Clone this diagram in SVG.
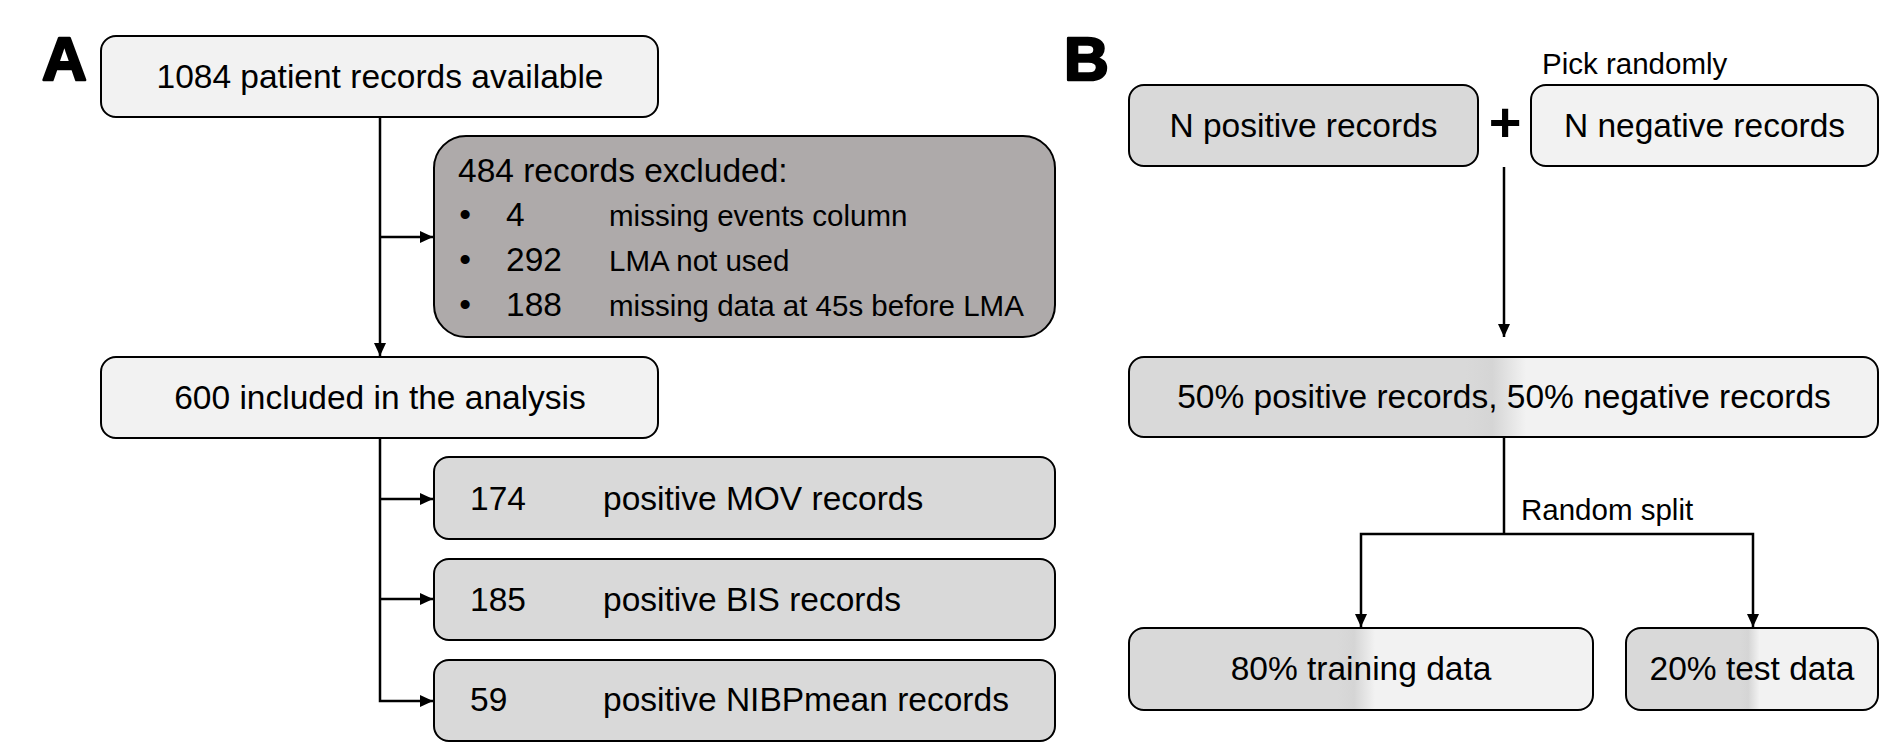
<svg xmlns="http://www.w3.org/2000/svg" width="1880" height="746" viewBox="0 0 1880 746">
  <style>
    text { font-family: "Liberation Sans", Arial, sans-serif; fill: #000; }
    .t { font-size: 33.5px; }
    .s { font-size: 29.5px; }
    .c { text-anchor: middle; }
    .lbl { font-size: 62px; font-weight: bold; stroke: #000; stroke-width: 2.5; stroke-linejoin: round; }
    .box { stroke: #000; stroke-width: 2; }
    .light { fill: #F2F2F2; }
    .mid { fill: #D9D9D9; }
    .dark { fill: #AEAAAA; }
    .grad { fill: url(#split); }
    .conn { fill: none; stroke: #000; stroke-width: 2.5; }
  </style>
  <defs>
    <marker id="arr" markerUnits="userSpaceOnUse" markerWidth="13" markerHeight="12" refX="13" refY="6" orient="auto">
      <path d="M0,0 L13,6 L0,12 z" fill="#000"/>
    </marker>
    <linearGradient id="split" x1="0" y1="0" x2="1" y2="0">
      <stop offset="0" stop-color="#D9D9D9"/>
      <stop offset="0.45" stop-color="#D9D9D9"/>
      <stop offset="0.485" stop-color="#D5D5D5"/>
      <stop offset="0.53" stop-color="#F2F2F2"/>
      <stop offset="1" stop-color="#F2F2F2"/>
    </linearGradient>
  </defs>

  <rect width="1880" height="746" fill="#FFFFFF"/>

  <text class="lbl" x="42" y="80">A</text>
  <text class="lbl" x="1064" y="80">B</text>

  <g id="connectors">
    <path class="conn" d="M380,117 V356" marker-end="url(#arr)"/>
    <path class="conn" d="M380,237 H433" marker-end="url(#arr)"/>
    <path class="conn" d="M380,438 V701 H433" marker-end="url(#arr)"/>
    <path class="conn" d="M380,499 H433" marker-end="url(#arr)"/>
    <path class="conn" d="M380,599 H433" marker-end="url(#arr)"/>
    <path class="conn" d="M1504,167 V337" marker-end="url(#arr)"/>
    <path class="conn" d="M1504,437 V534"/>
    <path class="conn" d="M1504,534 H1361 V627" marker-end="url(#arr)"/>
    <path class="conn" d="M1504,534 H1753 V627" marker-end="url(#arr)"/>
  </g>

  <g id="available">
    <rect class="box light" x="101" y="36" width="557" height="81" rx="15"/>
    <text class="t c" x="380" y="88">1084 patient records available</text>
  </g>

  <g id="excluded">
    <rect class="box dark" x="434" y="136" width="621" height="201" rx="32"/>
    <text class="t" x="458" y="182">484 records excluded:</text>
    <text class="t c" x="465" y="226">•</text>
    <text class="t" x="506" y="226">4</text>
    <text class="s" x="609" y="226">missing events column</text>
    <text class="t c" x="465" y="271">•</text>
    <text class="t" x="506" y="271">292</text>
    <text class="s" x="609" y="271">LMA not used</text>
    <text class="t c" x="465" y="316">•</text>
    <text class="t" x="506" y="316">188</text>
    <text class="s" x="609" y="316">missing data at 45s before LMA</text>
  </g>

  <g id="included">
    <rect class="box light" x="101" y="357" width="557" height="81" rx="15"/>
    <text class="t c" x="380" y="409">600 included in the analysis</text>
  </g>

  <g id="mov">
    <rect class="box mid" x="434" y="457" width="621" height="82" rx="15"/>
    <text class="t" x="470" y="510">174</text>
    <text class="t" x="603" y="510">positive MOV records</text>
  </g>

  <g id="bis">
    <rect class="box mid" x="434" y="559" width="621" height="81" rx="15"/>
    <text class="t" x="470" y="611">185</text>
    <text class="t" x="603" y="611">positive BIS records</text>
  </g>

  <g id="nibp">
    <rect class="box mid" x="434" y="660" width="621" height="81" rx="15"/>
    <text class="t" x="470" y="711">59</text>
    <text class="t" x="603" y="711">positive NIBPmean records</text>
  </g>

  <g id="positive">
    <rect class="box mid" x="1129" y="85" width="349" height="81" rx="15"/>
    <text class="t c" x="1303.5" y="137">N positive records</text>
  </g>

  <g id="plus">
    <text class="c" x="1505" y="141" style="font-size:56px;font-weight:bold">+</text>
  </g>

  <g id="negative">
    <text class="s" x="1542" y="74">Pick randomly</text>
    <rect class="box light" x="1531" y="85" width="347" height="81" rx="15"/>
    <text class="t c" x="1704.5" y="137">N negative records</text>
  </g>

  <g id="balanced">
    <rect class="box grad" x="1129" y="357" width="749" height="80" rx="15"/>
    <text class="t c" x="1504" y="408">50% positive records, 50% negative records</text>
  </g>

  <g id="split-label">
    <text class="s" x="1521" y="520">Random split</text>
  </g>

  <g id="training">
    <rect class="box grad" x="1129" y="628" width="464" height="82" rx="15"/>
    <text class="t c" x="1361" y="680">80% training data</text>
  </g>

  <g id="test">
    <rect class="box grad" x="1626" y="628" width="252" height="82" rx="15"/>
    <text class="t c" x="1752" y="680">20% test data</text>
  </g>
</svg>
